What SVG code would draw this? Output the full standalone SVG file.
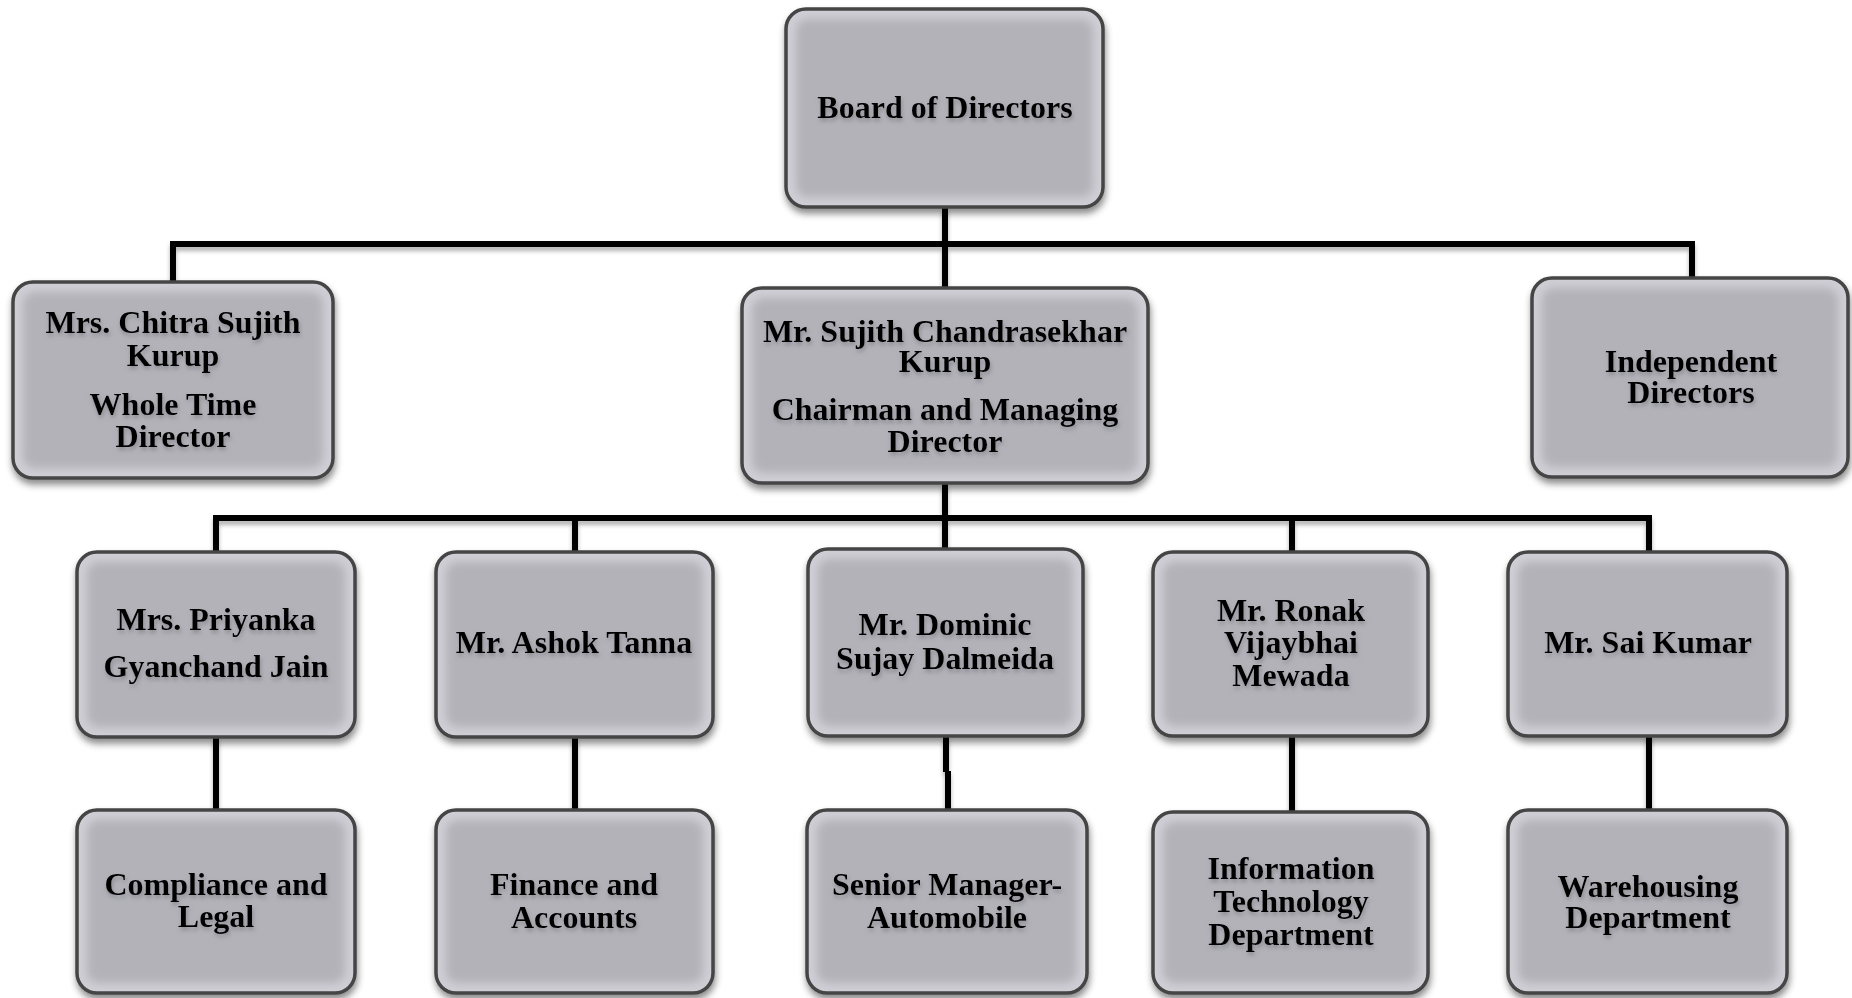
<svg xmlns="http://www.w3.org/2000/svg" width="1852" height="998" viewBox="0 0 1852 998">
<defs>
<filter id="boxShadow" x="-10%" y="-10%" width="120%" height="125%">
<feDropShadow dx="1" dy="5" stdDeviation="3.5" flood-color="#000" flood-opacity="0.45"/>
</filter>
<filter id="soft" x="-10%" y="-10%" width="120%" height="120%">
<feGaussianBlur stdDeviation="4"/>
</filter>
<filter id="txtShadow" x="-10%" y="-20%" width="120%" height="150%">
<feDropShadow dx="1" dy="3" stdDeviation="2" flood-color="#6a6a70" flood-opacity="0.55"/>
</filter>
<filter id="lineShadow" x="-5%" y="-50%" width="110%" height="300%">
<feDropShadow dx="0" dy="4" stdDeviation="2" flood-color="#000" flood-opacity="0.3"/>
</filter>
</defs>
<style>
.outer{fill:#cfced5;stroke:#444;stroke-width:3.5}
.inner{fill:#b3b2b9}
.lbl{font-family:"Liberation Serif","Times New Roman",serif;font-weight:bold;font-size:32px;fill:#000;text-anchor:middle}
.conn{fill:none;stroke:#000;stroke-width:6;stroke-linejoin:miter;stroke-linecap:butt}
</style>
<rect width="1852" height="998" fill="#fff"/>
<g id="connectors" filter="url(#lineShadow)">
<path class="conn" d="M945 207 V288"/>
<path class="conn" d="M173 282 V244 H1692 V278"/>
<path class="conn" d="M945 483 V549"/>
<path class="conn" d="M216 552 V518 H1649 V552"/>
<path class="conn" d="M575 518 V552"/>
<path class="conn" d="M1292 518 V552"/>
<path class="conn" d="M216 737 V810"/>
<path class="conn" d="M575 737 V810"/>
<path class="conn" d="M946 736 V772"/>
<path class="conn" d="M948 771 V810"/>
<path class="conn" d="M1292 735 V812"/>
<path class="conn" d="M1649 735 V810"/>
</g>
<g id="board">
<g filter="url(#boxShadow)"><rect class="outer" x="786" y="9" width="317" height="198" rx="20"/></g>
<rect class="inner" x="796" y="19" width="297" height="178" rx="12" filter="url(#soft)"/>
<g filter="url(#txtShadow)"><text class="lbl" x="945" y="118">Board of Directors</text></g>
</g>
<g id="chitra">
<g filter="url(#boxShadow)"><rect class="outer" x="13" y="282" width="320" height="196" rx="20"/></g>
<rect class="inner" x="23" y="292" width="300" height="176" rx="12" filter="url(#soft)"/>
<g filter="url(#txtShadow)">
<text class="lbl" x="173" y="333">Mrs. Chitra Sujith</text>
<text class="lbl" x="173" y="366">Kurup</text>
<text class="lbl" x="173" y="415">Whole Time</text>
<text class="lbl" x="173" y="447">Director</text>
</g>
</g>
<g id="sujith">
<g filter="url(#boxShadow)"><rect class="outer" x="742" y="288" width="406" height="195" rx="20"/></g>
<rect class="inner" x="752" y="298" width="386" height="175" rx="12" filter="url(#soft)"/>
<g filter="url(#txtShadow)">
<text class="lbl" x="945" y="342">Mr. Sujith Chandrasekhar</text>
<text class="lbl" x="945" y="372">Kurup</text>
<text class="lbl" x="945" y="420">Chairman and Managing</text>
<text class="lbl" x="945" y="452">Director</text>
</g>
</g>
<g id="independent">
<g filter="url(#boxShadow)"><rect class="outer" x="1532" y="278" width="316" height="199" rx="20"/></g>
<rect class="inner" x="1542" y="288" width="296" height="179" rx="12" filter="url(#soft)"/>
<g filter="url(#txtShadow)">
<text class="lbl" x="1691" y="372">Independent</text>
<text class="lbl" x="1691" y="403">Directors</text>
</g>
</g>
<g id="priyanka">
<g filter="url(#boxShadow)"><rect class="outer" x="77" y="552" width="278" height="185" rx="20"/></g>
<rect class="inner" x="87" y="562" width="258" height="165" rx="12" filter="url(#soft)"/>
<g filter="url(#txtShadow)">
<text class="lbl" x="216" y="630">Mrs. Priyanka</text>
<text class="lbl" x="216" y="677">Gyanchand Jain</text>
</g>
</g>
<g id="ashok">
<g filter="url(#boxShadow)"><rect class="outer" x="436" y="552" width="277" height="185" rx="20"/></g>
<rect class="inner" x="446" y="562" width="257" height="165" rx="12" filter="url(#soft)"/>
<g filter="url(#txtShadow)">
<text class="lbl" x="574" y="653">Mr. Ashok Tanna</text>
</g>
</g>
<g id="dominic">
<g filter="url(#boxShadow)"><rect class="outer" x="808" y="549" width="275" height="187" rx="20"/></g>
<rect class="inner" x="818" y="559" width="255" height="167" rx="12" filter="url(#soft)"/>
<g filter="url(#txtShadow)">
<text class="lbl" x="945" y="635">Mr. Dominic</text>
<text class="lbl" x="945" y="669">Sujay Dalmeida</text>
</g>
</g>
<g id="ronak">
<g filter="url(#boxShadow)"><rect class="outer" x="1153" y="552" width="275" height="184" rx="20"/></g>
<rect class="inner" x="1163" y="562" width="255" height="164" rx="12" filter="url(#soft)"/>
<g filter="url(#txtShadow)">
<text class="lbl" x="1291" y="621">Mr. Ronak</text>
<text class="lbl" x="1291" y="653">Vijaybhai</text>
<text class="lbl" x="1291" y="686">Mewada</text>
</g>
</g>
<g id="sai">
<g filter="url(#boxShadow)"><rect class="outer" x="1508" y="552" width="279" height="184" rx="20"/></g>
<rect class="inner" x="1518" y="562" width="259" height="164" rx="12" filter="url(#soft)"/>
<g filter="url(#txtShadow)">
<text class="lbl" x="1648" y="653">Mr. Sai Kumar</text>
</g>
</g>
<g id="compliance">
<g filter="url(#boxShadow)"><rect class="outer" x="77" y="810" width="278" height="183" rx="20"/></g>
<rect class="inner" x="87" y="820" width="258" height="163" rx="12" filter="url(#soft)"/>
<g filter="url(#txtShadow)">
<text class="lbl" x="216" y="895">Compliance and</text>
<text class="lbl" x="216" y="927">Legal</text>
</g>
</g>
<g id="finance">
<g filter="url(#boxShadow)"><rect class="outer" x="436" y="810" width="277" height="183" rx="20"/></g>
<rect class="inner" x="446" y="820" width="257" height="163" rx="12" filter="url(#soft)"/>
<g filter="url(#txtShadow)">
<text class="lbl" x="574" y="895">Finance and</text>
<text class="lbl" x="574" y="928">Accounts</text>
</g>
</g>
<g id="senior">
<g filter="url(#boxShadow)"><rect class="outer" x="807" y="810" width="280" height="183" rx="20"/></g>
<rect class="inner" x="817" y="820" width="260" height="163" rx="12" filter="url(#soft)"/>
<g filter="url(#txtShadow)">
<text class="lbl" x="947" y="895">Senior Manager-</text>
<text class="lbl" x="947" y="928">Automobile</text>
</g>
</g>
<g id="it">
<g filter="url(#boxShadow)"><rect class="outer" x="1153" y="812" width="275" height="181" rx="20"/></g>
<rect class="inner" x="1163" y="822" width="255" height="161" rx="12" filter="url(#soft)"/>
<g filter="url(#txtShadow)">
<text class="lbl" x="1291" y="879">Information</text>
<text class="lbl" x="1291" y="912">Technology</text>
<text class="lbl" x="1291" y="945">Department</text>
</g>
</g>
<g id="warehousing">
<g filter="url(#boxShadow)"><rect class="outer" x="1508" y="810" width="279" height="183" rx="20"/></g>
<rect class="inner" x="1518" y="820" width="259" height="163" rx="12" filter="url(#soft)"/>
<g filter="url(#txtShadow)">
<text class="lbl" x="1648" y="897">Warehousing</text>
<text class="lbl" x="1648" y="928">Department</text>
</g>
</g>
</svg>
